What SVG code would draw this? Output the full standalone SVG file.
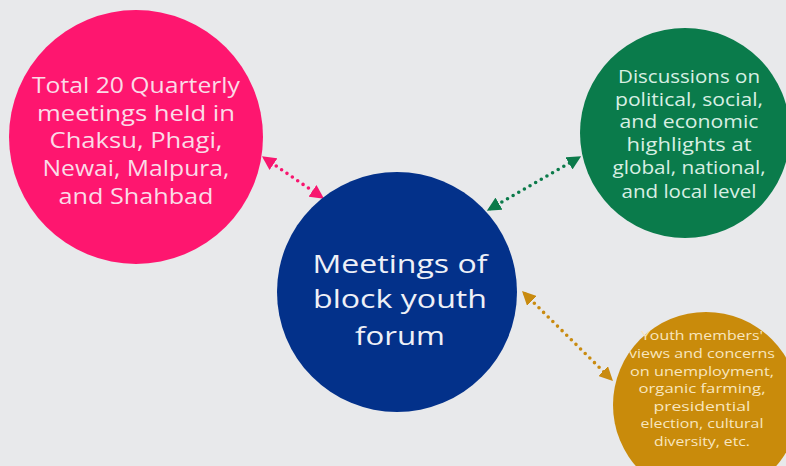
<svg xmlns="http://www.w3.org/2000/svg" width="786" height="466" viewBox="0 0 786 466">
<defs>
<style>
.t{font-family:"Open Sans","Liberation Sans",sans-serif;text-anchor:middle}
.c{fill:none;stroke-width:3.6;stroke-linecap:round;stroke-dasharray:0 6.5}
</style>
<marker id="mp" markerUnits="userSpaceOnUse" markerWidth="14" markerHeight="14" refX="9" refY="6.5" orient="auto-start-reverse" viewBox="0 0 13 13"><path d="M0,0 L13,6.5 L0,13 z" fill="#f8166f"/></marker>
<marker id="mg" markerUnits="userSpaceOnUse" markerWidth="14" markerHeight="14" refX="9" refY="6.5" orient="auto-start-reverse" viewBox="0 0 13 13"><path d="M0,0 L13,6.5 L0,13 z" fill="#0b7a4a"/></marker>
<marker id="mo" markerUnits="userSpaceOnUse" markerWidth="14" markerHeight="14" refX="9" refY="6.5" orient="auto-start-reverse" viewBox="0 0 13 13"><path d="M0,0 L13,6.5 L0,13 z" fill="#c98b10"/></marker>
</defs>
<rect width="786" height="466" fill="#e8e9eb"/>
<g id="connectors">
<line class="c" x1="265.5" y1="158.7" x2="320.5" y2="196.3" stroke="#f8166f" marker-start="url(#mp)" marker-end="url(#mp)"/>
<line class="c" x1="490.6" y1="208.5" x2="577.4" y2="158.5" stroke="#0b7a4a" marker-start="url(#mg)" marker-end="url(#mg)"/>
<line class="c" x1="525.1" y1="294.1" x2="609.9" y2="377.9" stroke="#c98b10" marker-start="url(#mo)" marker-end="url(#mo)"/>
</g>
<g id="node-quarterly">
<circle cx="136" cy="137" r="127" fill="#fe166f"/>
<g class="t" font-size="22" fill="#fbdbe7">
<text x="136" y="92.5" textLength="208" lengthAdjust="spacingAndGlyphs">Total 20 Quarterly</text>
<text x="136" y="120.5" textLength="198" lengthAdjust="spacingAndGlyphs">meetings held in</text>
<text x="136" y="148" textLength="173" lengthAdjust="spacingAndGlyphs">Chaksu, Phagi,</text>
<text x="136" y="176" textLength="187" lengthAdjust="spacingAndGlyphs">Newai, Malpura,</text>
<text x="136" y="203.5" textLength="155" lengthAdjust="spacingAndGlyphs">and Shahbad</text>
</g>
</g>
<g id="node-discussions">
<circle cx="685" cy="133" r="105" fill="#0a7b4b"/>
<g class="t" font-size="17.5" fill="#d8efe3">
<text x="689" y="83" textLength="142" lengthAdjust="spacingAndGlyphs">Discussions on</text>
<text x="689" y="106" textLength="148" lengthAdjust="spacingAndGlyphs">political, social,</text>
<text x="689" y="128" textLength="139" lengthAdjust="spacingAndGlyphs">and economic</text>
<text x="689" y="151" textLength="125" lengthAdjust="spacingAndGlyphs">highlights at</text>
<text x="689" y="174" textLength="153" lengthAdjust="spacingAndGlyphs">global, national,</text>
<text x="689" y="198" textLength="135" lengthAdjust="spacingAndGlyphs">and local level</text>
</g>
</g>
<g id="node-forum">
<circle cx="397" cy="292" r="120" fill="#03318a"/>
<g class="t" font-size="25.5" fill="#eef0f7">
<text x="400" y="273" textLength="175" lengthAdjust="spacingAndGlyphs">Meetings of</text>
<text x="400" y="308" textLength="174" lengthAdjust="spacingAndGlyphs">block youth</text>
<text x="400" y="345" textLength="90" lengthAdjust="spacingAndGlyphs">forum</text>
</g>
</g>
<g id="node-views">
<circle cx="706" cy="405" r="93" fill="#c98b0b"/>
<g class="t" font-size="13.5" fill="#f8e6bf">
<text x="702" y="340" textLength="122" lengthAdjust="spacingAndGlyphs">Youth members'</text>
<text x="702" y="358" textLength="146" lengthAdjust="spacingAndGlyphs">views and concerns</text>
<text x="702" y="376" textLength="144" lengthAdjust="spacingAndGlyphs">on unemployment,</text>
<text x="702" y="393" textLength="127" lengthAdjust="spacingAndGlyphs">organic farming,</text>
<text x="702" y="411" textLength="97" lengthAdjust="spacingAndGlyphs">presidential</text>
<text x="702" y="428" textLength="123" lengthAdjust="spacingAndGlyphs">election, cultural</text>
<text x="702" y="446" textLength="96" lengthAdjust="spacingAndGlyphs">diversity, etc.</text>
</g>
</g>
</svg>
